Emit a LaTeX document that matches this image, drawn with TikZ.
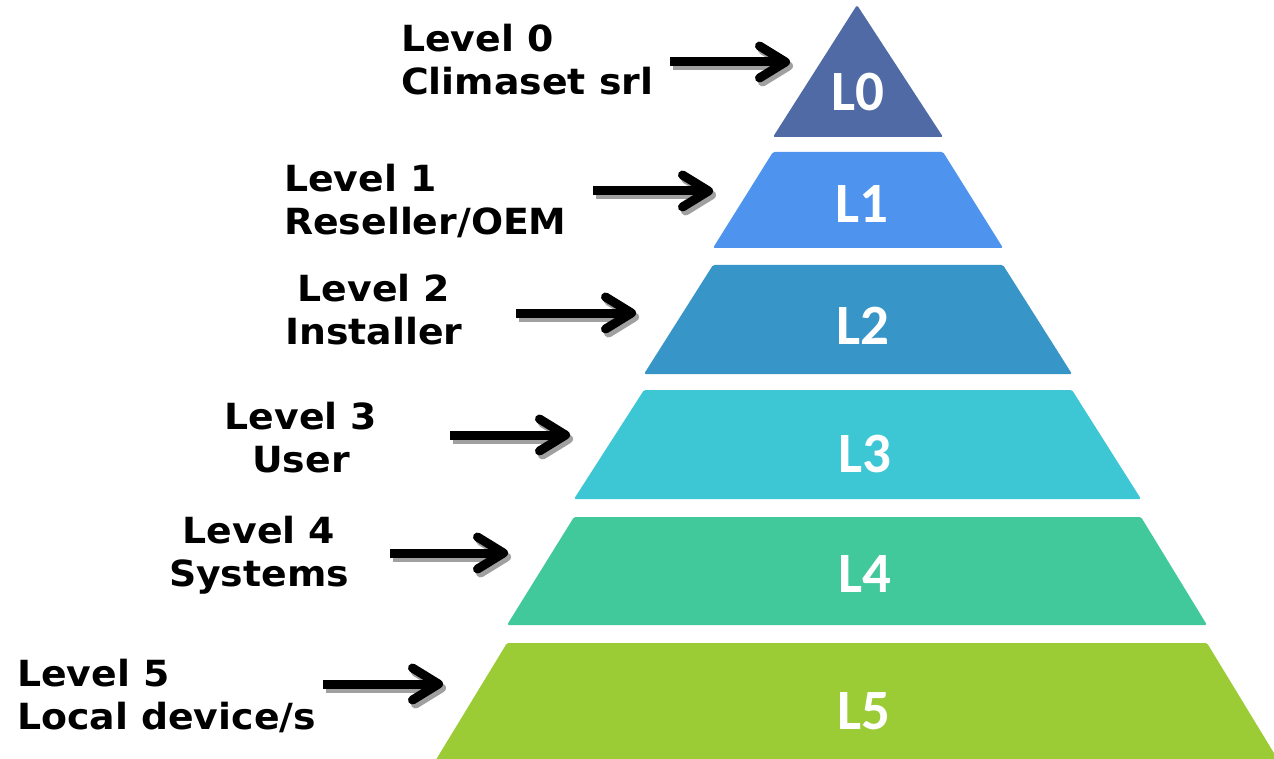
\documentclass[tikz,border=0pt]{standalone}
\usepackage{fontspec}
\usetikzlibrary{arrows.meta}
\newfontfamily\lblfont[FakeStretch=1.05]{DejaVu Sans}
\newfontfamily\lvfont{Carlito}
\definecolor{cL0}{HTML}{4F6AA4}
\definecolor{cL1}{HTML}{4E93EE}
\definecolor{cL2}{HTML}{3795C8}
\definecolor{cL3}{HTML}{3DC6D4}
\definecolor{cL4}{HTML}{42C99B}
\definecolor{cL5}{HTML}{9BCC36}
\definecolor{shade}{HTML}{A0A0A0}
\tikzset{
  band/.style={rounded corners=1.5pt},
  lvtext/.style={text=white, font=\lvfont\bfseries\fontsize{57}{60}\selectfont, inner sep=0pt, anchor=base},
  desc/.style={font=\lblfont\bfseries\fontsize{36}{43}\selectfont, inner sep=0pt, text=black},
  arrbody/.style={line width=9pt, -{Straight Barb[round, length=26pt, width=32pt]}},
  arrmain/.style={arrbody, draw=black},
  arrshade/.style={arrbody, draw=shade},
}
\begin{document}
\begin{tikzpicture}[x=1pt, y=-1pt]
\useasboundingbox (0,0) rectangle (1274,759);
\begin{scope}
\clip (0,0) rectangle (1274,759);
% pyramid bands
\fill[band, cL0] (857,5) -- (943,137) -- (773,137) -- cycle;
\fill[band, cL1] (773,152) -- (943,152) -- (1003,248) -- (713,248) -- cycle;
\fill[band, cL2] (713,265) -- (1003,265) -- (1072,374) -- (644,374) -- cycle;
\fill[band, cL3] (644,390) -- (1072,390) -- (1141,499) -- (574,499) -- cycle;
\fill[band, cL4] (574,517) -- (1141,517) -- (1207,625) -- (507,625) -- cycle;
\fill[band, cL5] (507,643) -- (1207,643) -- (1280,763) -- (434,763) -- cycle;
\end{scope}
% level tags
\node[lvtext] (t0) at (858,111) {L0};
\node[lvtext] (t1) at (862,223) {L1};
\node[lvtext] (t2) at (863,344) {L2};
\node[lvtext] (t3) at (865,472) {L3};
\node[lvtext] (t4) at (865,592) {L4};
\node[lvtext] (t5) at (864,729) {L5};
% descriptions
\node[desc, anchor=north west, align=left] (d0) at (401,24) {Level 0\\Climaset srl};
\node[desc, anchor=north west, align=left] (d1) at (284,164) {Level 1\\Reseller/OEM};
\node[desc, anchor=north, align=center] (d2) at (374,274) {Level 2\\Installer};
\node[desc, anchor=north, align=center] (d3) at (301,402) {Level 3\\User};
\node[desc, anchor=north, align=center] (d4) at (259,516) {Level 4\\Systems};
\node[desc, anchor=north west, align=left] (d5) at (17,659) {Level 5\\Local device/s};
% arrow end points
\coordinate (s0) at (670,62);  \coordinate (e0) at (790,62);
\coordinate (s1) at (593,191); \coordinate (e1) at (713,191);
\coordinate (s2) at (516,313); \coordinate (e2) at (636,313);
\coordinate (s3) at (450,435); \coordinate (e3) at (570,435);
\coordinate (s4) at (390,553); \coordinate (e4) at (508,553);
\coordinate (s5) at (323,684); \coordinate (e5) at (443,684);
% shadows
\foreach \i in {0,...,5}{
  \draw[arrshade] ([shift={(3,4)}]s\i) -- ([shift={(3,4)}]e\i);
}
% arrows
\foreach \i in {0,...,5}{
  \draw[arrmain] (s\i) -- (e\i);
}
\end{tikzpicture}
\end{document}
